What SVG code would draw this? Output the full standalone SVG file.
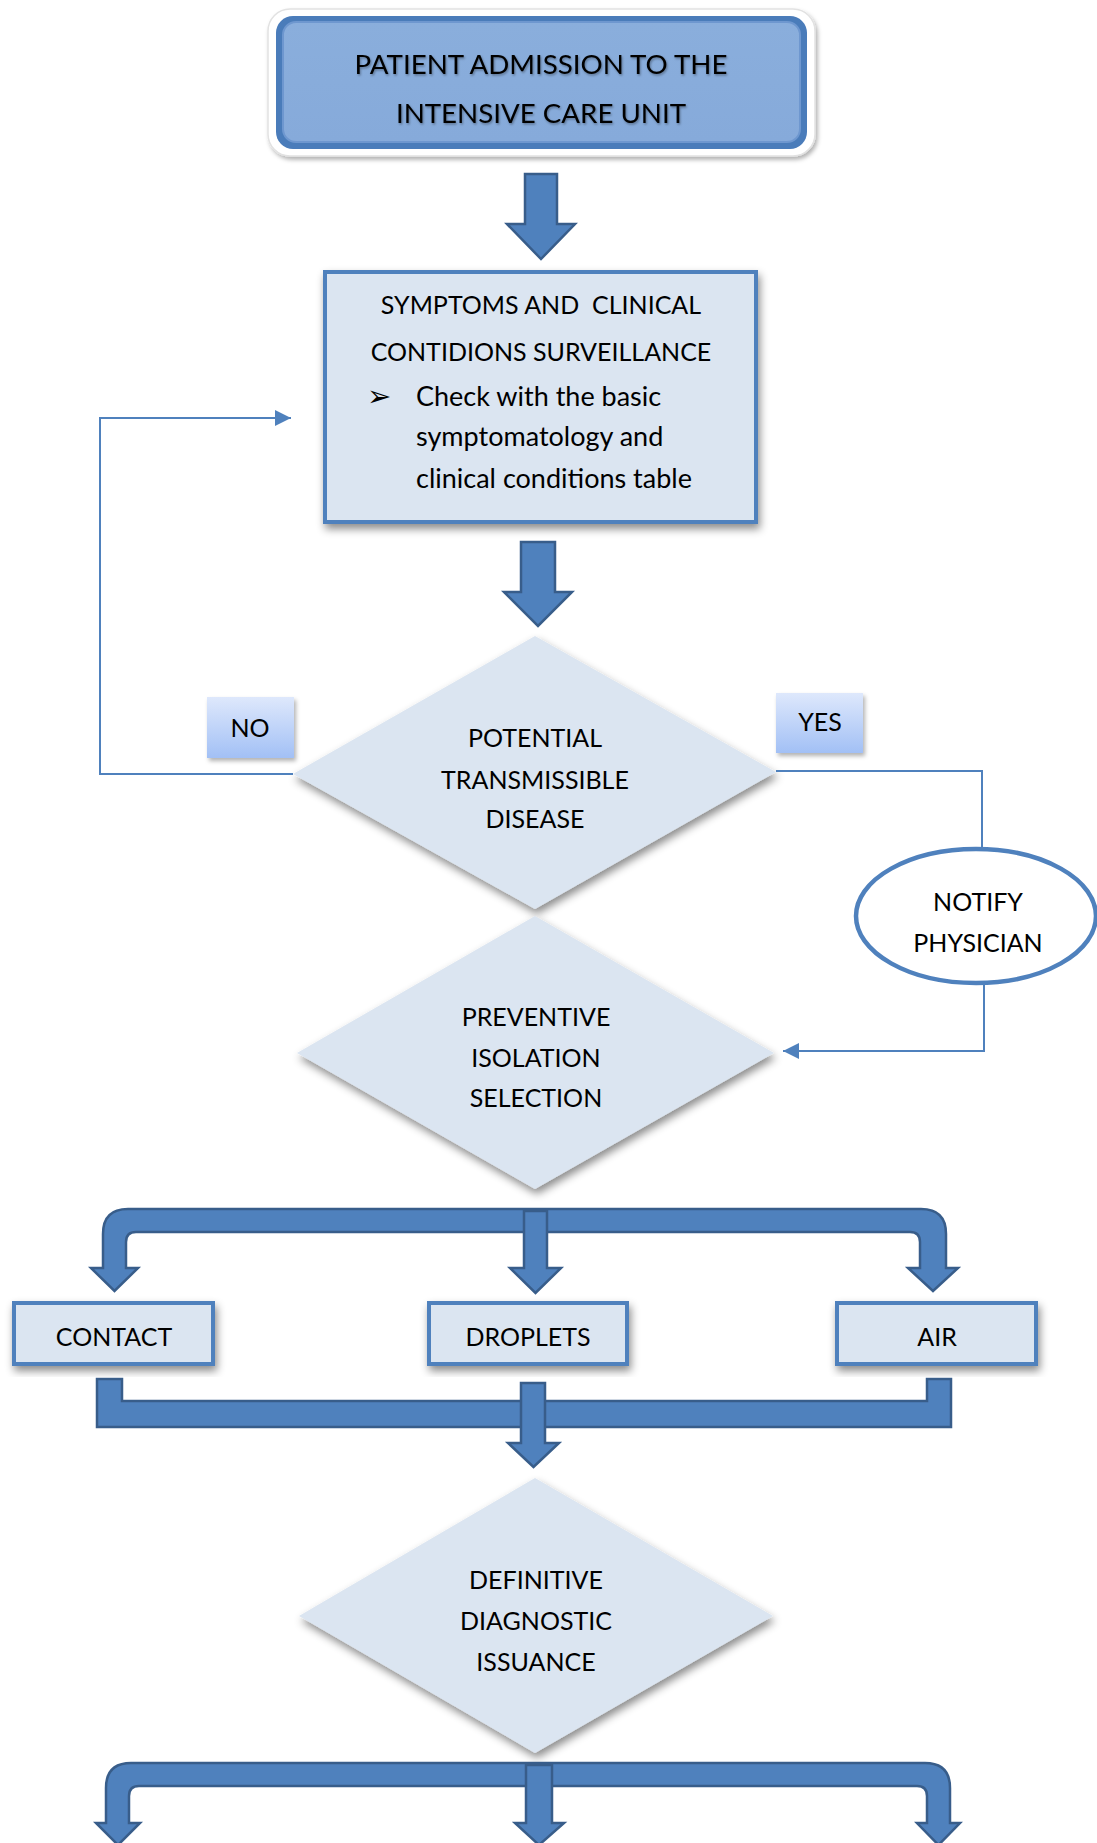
<svg xmlns="http://www.w3.org/2000/svg" width="1097" height="1843" viewBox="0 0 1097 1843">
<style>
.t{font-family:Lato,"Open Sans",sans-serif;font-size:25px;fill:#000;text-anchor:middle}
.tl{font-family:Lato,"Open Sans",sans-serif;font-size:27px;fill:#000}
.big{font-size:27.7px}
.arr{fill:#4F81BD;stroke:#385D8A;stroke-width:2.5;stroke-linejoin:miter}
.box{fill:#DBE5F1;stroke:#4F81BD;stroke-width:4}
.dia{fill:#DBE5F1}
.con{fill:none;stroke:#4F81BD;stroke-width:2}
.lbl{fill:url(#lblg)}
</style>
<defs>
<filter id="sh" x="-10%" y="-10%" width="125%" height="130%"><feDropShadow dx="2" dy="5" stdDeviation="4" flood-color="#000" flood-opacity="0.45"/></filter>
<filter id="shs" x="-10%" y="-10%" width="125%" height="130%"><feDropShadow dx="2" dy="3" stdDeviation="2" flood-color="#000" flood-opacity="0.3"/></filter>
<filter id="tsh" x="-5%" y="-20%" width="110%" height="150%"><feDropShadow dx="1" dy="1.5" stdDeviation="1" flood-color="#000" flood-opacity="0.35"/></filter>
<linearGradient id="lblg" x1="0" y1="0" x2="0" y2="1"><stop offset="0" stop-color="#DEE8FC"/><stop offset="1" stop-color="#A2C0F5"/></linearGradient>
<linearGradient id="topg" x1="0" y1="0" x2="0" y2="1"><stop offset="0" stop-color="#8AAEDC"/><stop offset="1" stop-color="#86AADA"/></linearGradient>
<marker id="ah" viewBox="0 0 16 16" refX="16" refY="8" markerWidth="16" markerHeight="16" markerUnits="userSpaceOnUse" orient="auto"><path d="M0,0 L16,8 L0,16 Z" fill="#4F81BD"/></marker>
</defs>
<rect width="1097" height="1843" fill="#fff"/>

<g id="admission">
<rect x="268" y="9" width="547" height="147" rx="22" fill="#fff" stroke="#e2e2e2" stroke-width="1.5" filter="url(#shs)"/>
<rect x="276" y="16" width="531" height="133" rx="17" fill="#4A7CBA"/>
<rect x="283" y="22" width="517" height="120" rx="13" fill="url(#topg)" stroke="#6E97CF" stroke-width="2"/>
<text class="t big" x="541" y="74" filter="url(#tsh)">PATIENT ADMISSION TO THE</text>
<text class="t big" x="541" y="123" filter="url(#tsh)">INTENSIVE CARE UNIT</text>
</g>

<g id="surveillance">
<rect class="box" x="325" y="272" width="431" height="250" filter="url(#sh)"/>
<text class="t" x="541" y="314" xml:space="preserve">SYMPTOMS AND  CLINICAL</text>
<text class="t" x="541" y="361">CONTIDIONS SURVEILLANCE</text>
<text x="367" y="406" style="font-family:'DejaVu Sans',sans-serif;font-size:29px">➢</text>
<text class="tl" x="416" y="406">Check with the basic</text>
<text class="tl" x="416" y="446">symptomatology and</text>
<text class="tl" x="416" y="488">clinical conditions table</text>
</g>

<g id="potential-disease">
<polygon class="dia" points="535,636 776,772 535,909 293,774" filter="url(#sh)"/>
<text class="t" x="535" y="747">POTENTIAL</text>
<text class="t" x="535" y="789">TRANSMISSIBLE</text>
<text class="t" x="535" y="828">DISEASE</text>
</g>

<g id="label-no">
<rect class="lbl" x="207" y="697" width="87" height="61" filter="url(#shs)"/>
<text class="t" x="250" y="737">NO</text>
</g>

<g id="label-yes">
<rect class="lbl" x="776" y="693" width="87" height="60" filter="url(#shs)"/>
<text class="t" x="820" y="731">YES</text>
</g>

<g id="notify-physician">
<ellipse cx="976" cy="916" rx="120" ry="67" fill="#fff" stroke="#4F81BD" stroke-width="4.5"/>
<text class="t" x="978" y="911">NOTIFY</text>
<text class="t" x="978" y="952">PHYSICIAN</text>
</g>

<g id="preventive-isolation">
<polygon class="dia" points="535,916 774,1053 535,1189 297,1053" filter="url(#sh)"/>
<text class="t" x="536" y="1026">PREVENTIVE</text>
<text class="t" x="536" y="1067">ISOLATION</text>
<text class="t" x="536" y="1107">SELECTION</text>
</g>

<g id="contact">
<rect class="box" x="14" y="1303" width="199" height="61" filter="url(#sh)"/>
<text class="t" x="114" y="1346">CONTACT</text>
</g>
<g id="droplets">
<rect class="box" x="429" y="1303" width="198" height="61" filter="url(#sh)"/>
<text class="t" x="528" y="1346">DROPLETS</text>
</g>
<g id="air">
<rect class="box" x="837" y="1303" width="199" height="61" filter="url(#sh)"/>
<text class="t" x="937" y="1346">AIR</text>
</g>

<g id="definitive-diagnostic">
<polygon class="dia" points="535,1478 773,1616 535,1753 299,1616" filter="url(#sh)"/>
<text class="t" x="536" y="1589">DEFINITIVE</text>
<text class="t" x="536" y="1630">DIAGNOSTIC</text>
<text class="t" x="536" y="1671">ISSUANCE</text>
</g>

<g id="connectors">
<path class="arr" d="M525,174 L557,174 L557,224 L575,224 L541,259 L507,224 L525,224 Z"/>
<path class="arr" d="M521,542 L555,542 L555,592 L572,592 L538,626 L504,592 L521,592 Z"/>
<path class="con" d="M293,774 L100,774 L100,418 L291,418" marker-end="url(#ah)"/>
<path class="con" d="M776,771 L982,771 L982,849"/>
<path class="con" d="M984,983 L984,1051 L783,1051" marker-end="url(#ah)"/>
<path class="arr" d="M103,1268 L91,1268 L114.5,1291 L138,1268 L126,1268 L126,1242 Q126,1232 136,1232 L910,1232 Q920,1232 920,1242 L920,1268 L908,1268 L933,1291 L958,1268 L946,1268 L946,1234 Q946,1209 921,1209 L128,1209 Q103,1209 103,1234 Z"/>
<path class="arr" d="M524,1211 L547,1211 L547,1268 L561,1268 L535.5,1293 L510,1268 L524,1268 Z"/>
<path class="arr" d="M97,1379 L122,1379 L122,1401 L927,1401 L927,1379 L951,1379 L951,1427 L97,1427 Z"/>
<path class="arr" d="M521,1383 L545,1383 L545,1443 L559,1443 L533.5,1467 L508,1443 L521,1443 Z"/>
<path class="arr" d="M106,1823 L96,1823 L118,1845 L140,1823 L129,1823 L129,1796 Q129,1786 139,1786 L917,1786 Q927,1786 927,1796 L927,1823 L917,1823 L938.5,1845 L960,1823 L950,1823 L950,1788 Q950,1763 925,1763 L131,1763 Q106,1763 106,1788 Z"/>
<path class="arr" d="M526,1765 L552,1765 L552,1823 L564,1823 L539,1845 L515,1823 L526,1823 Z"/>
</g>
</svg>
